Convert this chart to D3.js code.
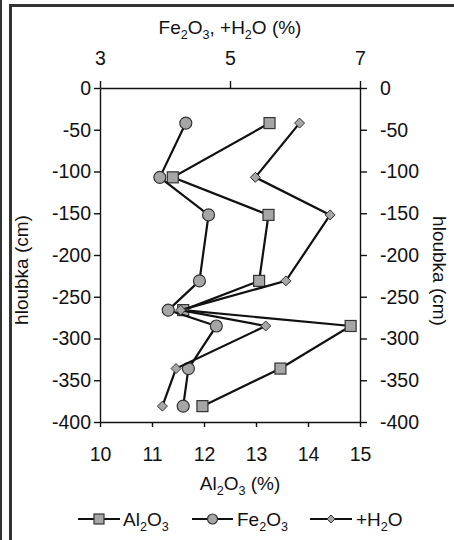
<!DOCTYPE html>
<html><head><meta charset="utf-8">
<script src="https://cdn.jsdelivr.net/npm/d3@7"></script>
<style>
html,body{margin:0;padding:0;background:#fff;}
text{font-family:"Liberation Sans",Arial,sans-serif;fill:#111;}
</style></head>
<body>
<svg id="c" width="454" height="540"></svg>
<script>
// ---- data ----
const depths = [-42, -107, -152, -231, -266, -285, -336, -381];
const al2o3 = [13.26, 11.40, 13.24, 13.06, 11.60, 14.82, 13.47, 11.97];
const fe2o3 = [4.32, 3.92, 4.67, 4.53, 4.05, 4.79, 4.36, 4.28];
const h2o   = [6.07, 5.39, 6.54, 5.86, 4.24, 5.55, 4.17, 3.96];
const depthTicks = [0, -50, -100, -150, -200, -250, -300, -350, -400];
const alTicks = [10, 11, 12, 13, 14, 15];
const topTicks = [3, 5, 7];

const svg = d3.select("#c");
const x = d3.scaleLinear().domain([10, 15]).range([100, 360]);
const x2 = d3.scaleLinear().domain([3, 7]).range([100, 360]);
const y = d3.scaleLinear().domain([0, -400]).range([88, 422]);
const fmt = d => String(d).replace("−", "-");

// frame
svg.append("rect").attr("x", 0).attr("y", 0).attr("width", 2).attr("height", 540).attr("fill", "#333");
svg.append("rect").attr("x", 9).attr("y", 4).attr("width", 3).attr("height", 536).attr("fill", "#333");
svg.append("rect").attr("x", 9).attr("y", 4).attr("width", 445).attr("height", 3).attr("fill", "#333");

const axStroke = (g) => {
  g.selectAll("path,line").attr("stroke", "#111").attr("stroke-width", 1.4);
  g.selectAll("text").style("font-size", "19.5px").attr("fill", "#111");
};

// left axis
const gl = svg.append("g").attr("transform", "translate(100,0)")
  .call(d3.axisLeft(y).tickValues(depthTicks).tickSize(6).tickSizeOuter(0).tickPadding(3).tickFormat(fmt));
axStroke(gl);
// right axis
const gr = svg.append("g").attr("transform", "translate(360,0)")
  .call(d3.axisRight(y).tickValues(depthTicks).tickSize(7).tickSizeOuter(0).tickPadding(13).tickFormat(fmt));
axStroke(gr);
// bottom axis
const gb = svg.append("g").attr("transform", "translate(0,422)")
  .call(d3.axisBottom(x).tickValues(alTicks).tickSize(5).tickSizeOuter(0).tickFormat(fmt));
axStroke(gb);
gb.selectAll("text").attr("y", 39).attr("dy", 0);
// top axis
const gt = svg.append("g").attr("transform", "translate(0,88)")
  .call(d3.axisTop(x2).tickValues(topTicks).tickSize(7).tickSizeOuter(0).tickFormat(fmt));
axStroke(gt);
gt.selectAll("text").attr("y", -23).attr("dy", 0);

// titles with subscripts
function richText(sel, parts, size) {
  parts.forEach(p => {
    if (p.sub) {
      sel.append("tspan").text(p.t).style("font-size", (size * 0.66) + "px").attr("dy", size * 0.25);
    } else {
      const t = sel.append("tspan").text(p.t).style("font-size", size + "px");
      if (p.back) t.attr("dy", -size * 0.25);
    }
  });
}
const t1 = svg.append("text").attr("x", 230).attr("y", 34).attr("text-anchor", "middle");
richText(t1, [{t: "Fe"}, {t: "2", sub: 1}, {t: "O", back: 1}, {t: "3", sub: 1}, {t: ", +H", back: 1}, {t: "2", sub: 1}, {t: "O (%)", back: 1}], 19);
const t2 = svg.append("text").attr("x", 240).attr("y", 490).attr("text-anchor", "middle");
richText(t2, [{t: "Al"}, {t: "2", sub: 1}, {t: "O", back: 1}, {t: "3", sub: 1}, {t: " (%)", back: 1}], 19);

svg.append("text").attr("transform", "translate(28,270) rotate(-90)").attr("text-anchor", "middle")
  .style("font-size", "19px").text("hloubka (cm)");
svg.append("text").attr("transform", "translate(433,271) rotate(90)").attr("text-anchor", "middle")
  .style("font-size", "19px").text("hloubka (cm)");

// series
const fill = "#a6a6a6", mstroke = "#333";
function marker(g, type, cx, cy, s) {
  if (type === "square") {
    g.append("rect").attr("x", cx - s / 2).attr("y", cy - s / 2).attr("width", s).attr("height", s)
      .attr("fill", fill).attr("stroke", mstroke).attr("stroke-width", 1.2);
  } else if (type === "circle") {
    g.append("circle").attr("cx", cx).attr("cy", cy).attr("r", s / 2)
      .attr("fill", fill).attr("stroke", mstroke).attr("stroke-width", 1.2);
  } else {
    const r = s / 2;
    g.append("path").attr("d", `M${cx},${cy - r}L${cx + r},${cy}L${cx},${cy + r}L${cx - r},${cy}Z`)
      .attr("fill", fill).attr("stroke", mstroke).attr("stroke-width", 1);
  }
}
const series = [
  {vals: al2o3, sc: x, type: "square", size: 11},
  {vals: fe2o3, sc: x2, type: "circle", size: 12},
  {vals: h2o, sc: x2, type: "diamond", size: 10}
];
series.forEach(s => {
  const g = svg.append("g");
  const pts = s.vals.map((v, i) => [s.sc(v), y(depths[i])]);
  g.append("path").attr("d", d3.line()(pts)).attr("fill", "none").attr("stroke", "#111").attr("stroke-width", 2.2);
  pts.forEach(p => marker(g, s.type, p[0], p[1], s.size));
});

// legend
const legend = [
  {type: "square", x0: 78, x1: 120, tx: 123, parts: [{t: "Al"}, {t: "2", sub: 1}, {t: "O", back: 1}, {t: "3", sub: 1}]},
  {type: "circle", x0: 192, x1: 233, tx: 237, parts: [{t: "Fe"}, {t: "2", sub: 1}, {t: "O", back: 1}, {t: "3", sub: 1}]},
  {type: "diamond", x0: 310, x1: 352, tx: 356, parts: [{t: "+H"}, {t: "2", sub: 1}, {t: "O", back: 1}]}
];
legend.forEach(l => {
  const g = svg.append("g");
  g.append("line").attr("x1", l.x0).attr("x2", l.x1).attr("y1", 519).attr("y2", 519).attr("stroke", "#111").attr("stroke-width", 2.2);
  marker(g, l.type, (l.x0 + l.x1) / 2, 519, l.type === "diamond" ? 8 : 10);
  const t = g.append("text").attr("x", l.tx).attr("y", 526);
  richText(t, l.parts, 19);
});
</script>
</body></html>
